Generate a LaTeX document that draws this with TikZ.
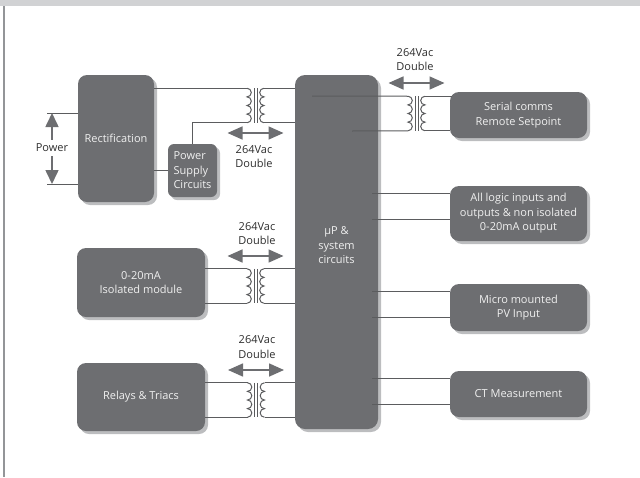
\documentclass[tikz,border=0pt]{standalone}
\usepackage{fontspec}
\setmainfont{Open Sans}
\usetikzlibrary{arrows.meta,shadows}
\definecolor{boxgray}{HTML}{6D6E71}
\definecolor{shgray}{HTML}{BCBDBF}
\definecolor{wgray}{HTML}{5B5C5E}
\definecolor{bandgray}{HTML}{D1D2D4}
\definecolor{rulegray}{HTML}{939598}
\definecolor{lighttext}{HTML}{F0F0F0}
\definecolor{darktext}{HTML}{2E2E2E}

\tikzset{bx/.style={fill=boxgray,rounded corners=9pt,text=lighttext,align=center,inner sep=0pt,font=\fontsize{11}{14.5}\selectfont,drop shadow={shadow xshift=3pt,shadow yshift=-3pt,fill=shgray,opacity=1}}}
\tikzset{lb/.style={text=darktext,align=center,inner sep=0pt,font=\fontsize{11}{14.5}\selectfont}}
\tikzset{wire/.style={draw=wgray,line width=1pt}}
\tikzset{da/.style={draw=boxgray,line width=1.6pt,{Triangle[length=15pt,width=13pt]}-{Triangle[length=15pt,width=13pt]}}}
\tikzset{pa/.style={draw=boxgray,line width=1.6pt,-{Triangle[length=14pt,width=13pt]}}}
\tikzset{pics/xf/.style={code={
  \coordinate (-tl) at (-8.5,-17.25);
  \coordinate (-bl) at (-8.5,17.25);
  \coordinate (-tr) at (8.5,-17.25);
  \coordinate (-br) at (8.5,17.25);
  \coordinate (-al) at (-28,#1);
  \coordinate (-ar) at (28,#1);
  \draw[wire] (-tl) arc[start angle=90,end angle=-90,radius=4.3125pt] arc[start angle=90,end angle=-90,radius=4.3125pt]
    arc[start angle=90,end angle=-90,radius=4.3125pt] arc[start angle=90,end angle=-90,radius=4.3125pt];
  \draw[wire] (-tr) arc[start angle=90,end angle=270,radius=4.3125pt] arc[start angle=90,end angle=270,radius=4.3125pt]
    arc[start angle=90,end angle=270,radius=4.3125pt] arc[start angle=90,end angle=270,radius=4.3125pt];
  \draw[wire] (-1.5,-17.25) -- (-1.5,17.25) (1.5,-17.25) -- (1.5,17.25);
}}}

\begin{document}
\begin{tikzpicture}
  [x=1pt,y=-1pt]
  \useasboundingbox (0,0) rectangle (640,477);
  \fill[bandgray] (0,0) rectangle (640,6);
  \draw[rulegray,line width=2pt] (4,6) -- (4,477);

  \node[bx,minimum width=76pt,minimum height=127pt] (rect) at (116,138.5) {Rectification};
  \node[bx,rounded corners=6pt,minimum width=49pt,minimum height=53pt,align=left] (psc) at (192.5,170.5) {Power\\Supply\\Circuits};
  \node[bx,rounded corners=10pt,minimum width=83pt,minimum height=354pt,text depth=13pt] (up) at (336.5,252) {µP \&\\system\\circuits};
  \node[bx,minimum width=137pt,minimum height=46pt] (serial) at (518.5,115) {Serial comms\\Remote Setpoint};
  \node[bx,minimum width=137pt,minimum height=55pt] (logic) at (518.5,213.5) {All logic inputs and\\outputs \& non isolated\\0-20mA output};
  \node[bx,minimum width=137pt,minimum height=47pt] (micro) at (518.5,307.5) {Micro mounted\\PV Input};
  \node[bx,minimum width=137pt,minimum height=46pt] (ct) at (518.5,394) {CT Measurement};
  \node[bx,minimum width=128pt,minimum height=69pt] (ma) at (141,282.5) {0-20mA\\Isolated module};
  \node[bx,minimum width=128pt,minimum height=68pt] (relay) at (141,397) {Relays \& Triacs};

  \pic (t1) at (255.5,105.5) {xf=27.5};
  \pic (t2) at (416.5,113.5) {xf=-30.5};
  \pic (t3) at (255.5,286) {xf=-30};
  \pic (t4) at (256,400) {xf=-30};

  \coordinate (upA) at (312,96);
  \coordinate (upB) at (352,131);
  \coordinate (upR) at ([xshift=-6pt]up.east);
  \coordinate (pwT) at (47,113);
  \coordinate (pwB) at (47,184);

  \draw[wire] (rect.east |- t1-tl) -- (t1-tl);
  \draw[wire] (psc.north) |- (t1-bl);
  \draw[wire] (rect.east |- psc.west) -- (psc.west);
  \draw[wire] (t1-tr) -- (up.west |- t1-tr);
  \draw[wire] (t1-br) -- (up.west |- t1-br);
  \draw[wire] (upA) -- (t2-tl);
  \draw[wire] (upB) -- (t2-bl);
  \draw[wire,shorten >=-2pt] (t2-tr) -- (serial.west |- t2-tr);
  \draw[wire] (t2-br) -- (serial.west |- t2-br);
  \draw[wire] (ma.east |- t3-tl) -- (t3-tl);
  \draw[wire] (ma.east |- t3-bl) -- (t3-bl);
  \draw[wire] (t3-tr) -- (up.west |- t3-tr);
  \draw[wire] (t3-br) -- (up.west |- t3-br);
  \draw[wire] (relay.east |- t4-tl) -- (t4-tl);
  \draw[wire] (relay.east |- t4-bl) -- (t4-bl);
  \draw[wire] (t4-tr) -- (up.west |- t4-tr);
  \draw[wire] (t4-br) -- (up.west |- t4-br);
  \draw[wire] ([yshift=-8pt]logic.north west) -- ([yshift=-8pt]logic.north west -| upR);
  \draw[wire] ([yshift=-34pt]logic.north west) -- ([yshift=-34pt]logic.north west -| upR);
  \draw[wire] ([yshift=-8pt]micro.north west) -- ([yshift=-8pt]micro.north west -| upR);
  \draw[wire] ([yshift=-34pt]micro.north west) -- ([yshift=-34pt]micro.north west -| upR);
  \draw[wire] ([yshift=-8pt]ct.north west) -- ([yshift=-8pt]ct.north west -| upR);
  \draw[wire] ([yshift=-34pt]ct.north west) -- ([yshift=-34pt]ct.north west -| upR);

  \node[lb] (pw) at (52,148) {Power};
  \draw[wire] (pwT) -- (rect.west |- pwT);
  \draw[wire] (pwB) -- (rect.west |- pwB);
  \draw[pa] ([yshift=4pt]pw.north) -- (pw.north |- pwT);
  \draw[pa] ([yshift=-4pt]pw.south) -- (pw.south |- pwB);

  \node[lb] (v1) at (254,156.5) {264Vac\\Double};
  \node[lb] (v2) at (415,59.5) {264Vac\\Double};
  \node[lb] (v3) at (257,233.5) {264Vac\\Double};
  \node[lb] (v4) at (257,347) {264Vac\\Double};
  \draw[da] (t1-al) -- (t1-ar);
  \draw[da] (t2-al) -- (t2-ar);
  \draw[da] (t3-al) -- (t3-ar);
  \draw[da] (t4-al) -- (t4-ar);
\end{tikzpicture}
\end{document}
